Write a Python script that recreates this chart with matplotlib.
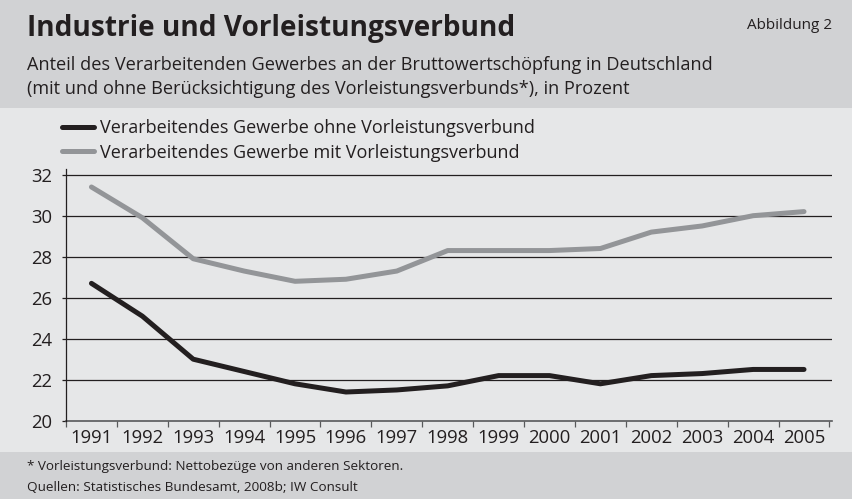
import numpy as np
import matplotlib.pyplot as plt
from matplotlib.patches import Rectangle

plt.rcParams['font.family'] = ['Open Sans', 'DejaVu Sans']

# --- data ---
years = [str(y) for y in range(1991, 2006)]
ohne = [26.7, 25.1, 23.0, 22.4, 21.8, 21.4, 21.5, 21.7, 22.2, 22.2, 21.8, 22.2, 22.3, 22.5, 22.5]
mit = [31.4, 29.9, 27.9, 27.3, 26.8, 26.9, 27.3, 28.3, 28.3, 28.3, 28.4, 29.2, 29.5, 30.0, 30.2]
yticks = [20, 22, 24, 26, 28, 30, 32]
labels = ['Verarbeitendes Gewerbe ohne Vorleistungsverbund',
          'Verarbeitendes Gewerbe mit Vorleistungsverbund']

W, H = 861, 499
dark = '#231f20'
band = '#d1d2d4'
panel = '#e6e7e8'

fig = plt.figure(figsize=(W / 100, H / 100), dpi=100)
fig.patch.set_facecolor('white')

def fy(px):
    return 1 - px / H

# background bands
fig.patches.append(Rectangle((0, fy(108)), 852 / W, 108 / H, transform=fig.transFigure,
                             facecolor=band, edgecolor='none', zorder=-10))
fig.patches.append(Rectangle((0, fy(452)), 852 / W, 344 / H, transform=fig.transFigure,
                             facecolor=panel, edgecolor='none', zorder=-10))
fig.patches.append(Rectangle((0, 0), 852 / W, 47 / H, transform=fig.transFigure,
                             facecolor=band, edgecolor='none', zorder=-10))

# header / footer text
fig.text(27 / W, fy(36), 'Industrie und Vorleistungsverbund', fontsize=20.2, fontweight='bold',
         color=dark, va='baseline')
fig.text(832 / W, fy(29), 'Abbildung 2', fontsize=11, color=dark, ha='right', va='baseline')
fig.text(27 / W, fy(70), 'Anteil des Verarbeitenden Gewerbes an der Bruttowertschöpfung in Deutschland',
         fontsize=13.1, color=dark, va='baseline')
fig.text(27 / W, fy(94), '(mit und ohne Berücksichtigung des Vorleistungsverbunds*), in Prozent',
         fontsize=13.1, color=dark, va='baseline')
fig.text(27 / W, fy(470), '* Vorleistungsverbund: Nettobezüge von anderen Sektoren.',
         fontsize=9.7, color=dark, va='baseline')
fig.text(27 / W, fy(491), 'Quellen: Statistisches Bundesamt, 2008b; IW Consult',
         fontsize=9.7, color=dark, va='baseline')

# axes
top, bottom = 168.5, 420.7
ax = fig.add_axes([66 / W, fy(bottom), (832 - 66) / W, (bottom - top) / H])
ax.set_facecolor('none')
x = np.arange(len(years))
ax.set_xlim(-0.5, 14.55)
ax.set_ylim(20, 20 + (bottom - top) / 20.5)

for v in yticks[1:]:
    ax.axhline(v, color=dark, lw=0.9, zorder=1)

ax.plot(x, ohne, color=dark, lw=3.6, solid_capstyle='round', solid_joinstyle='round',
        zorder=3, label=labels[0])
ax.plot(x, mit, color='#939598', lw=3.6, solid_capstyle='round', solid_joinstyle='round',
        zorder=3, label=labels[1])

for s in ['top', 'right']:
    ax.spines[s].set_visible(False)
ax.spines['left'].set_color(dark)
ax.spines['left'].set_linewidth(0.9)
ax.spines['bottom'].set_color('#58595b')
ax.spines['bottom'].set_linewidth(1.2)
ax.spines['bottom'].set_zorder(2)

ax.set_yticks(yticks)
ax.set_yticklabels([str(v) for v in yticks])
ax.tick_params(axis='y', length=3, width=0.9, color=dark, pad=7, labelsize=13.3, labelcolor=dark)

ax.set_xticks(np.arange(-0.5, 15, 1))
ax.set_xticklabels([])
ax.tick_params(axis='x', which='major', length=4, width=0.9, color='#58595b', direction='out')
ax.set_xticks(x, minor=True)
ax.set_xticklabels(years, minor=True)
ax.tick_params(axis='x', which='minor', length=0, pad=6.2, labelsize=13.3, labelcolor=dark)

leg = fig.legend(loc='upper left', bbox_to_anchor=(62 / W, fy(119)), frameon=False,
                 fontsize=13.0, handlelength=1.75, handletextpad=0.35, labelspacing=0.36,
                 borderaxespad=0, borderpad=0)
for t in leg.get_texts():
    t.set_color(dark)

fig.savefig('out.png', dpi=100)
